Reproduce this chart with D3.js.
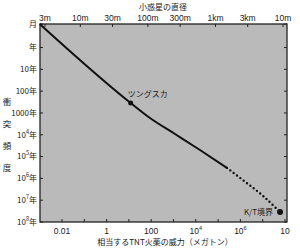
<!DOCTYPE html>
<html>
<head>
<meta charset="utf-8">
<script src="https://cdn.jsdelivr.net/npm/d3@7"></script>
<style>
  body { margin: 0; background: #fff; }
  text { font-family: "Liberation Sans", "Noto Sans CJK JP", sans-serif; fill: #1a1a1a; }
  .jp { font-family: "Noto Sans CJK JP", sans-serif; }
</style>
</head>
<body>
<svg id="chart" width="300" height="248"></svg>
<script>
// impact energy (Mt TNT) vs mean interval between impacts (years)
const solidEnergy = [0.001, 12, 88, 1170, 15400, 250000]
const solidInterval = [1 / 12, 350, 1700, 9200, 50000, 330000]

const dottedEnergy = [250000, 1.3e6, 9.3e6, 6e7]
const dottedInterval = [330000, 1.2e6, 5.8e6, 3.5e7]

const eventNames = ['ツングスカ', 'K/T境界']
const eventEnergy = [12, 6e7]
const eventInterval = [350, 3.5e7]

const energyTickValues = [0.01, 1, 100, 1e4, 1e6, 1e8]
const energyTickLabels = ['0.01', '1', '100', '10^4', '10^6', '10']
const energyMinorTicks = [0.1, 10, 1000, 1e5, 1e7]

const diameterTickValues = [3, 10, 30, 100, 300, 1000, 3000, 10000]
const diameterTickLabels = ['3m', '10m', '30m', '100m', '300m', '1km', '3km', '10m']

const intervalTickValues = [1 / 12, 1, 10, 100, 1000, 1e4, 1e5, 1e6, 1e7, 1e8]
const intervalTickLabels = ['月', '年', '10年', '100年', '1000年', '10^4年', '10^5年', '10^6年', '10^7年', '10^8年']

const svg = d3.select('#chart')

const plotLeft = 40, plotRight = 287, plotTop = 24, plotBottom = 222

let x = d3.scaleLog().domain([0.01, 1e8]).range([62, 285])
let xTop = d3.scaleLog().domain([3, 10000]).range([45, 283])
let y = d3.scaleLog().domain([1 / 12, 1e8]).range([plotTop, plotBottom])

// label with optional superscript "10^4年"
const writeLabel = (sel, s) => {
	let m = s.match(/^([^\^]*)\^(\d)(.*)$/)
	if (!m) { sel.text(s); return }
	sel.append('tspan').text(m[1])
	sel.append('tspan').attr('dy', -4).attr('font-size', '5.5px').text(m[2])
	if (m[3]) sel.append('tspan').attr('dy', 4).text(m[3])
}

svg.append('rect')
.attr('x', plotLeft).attr('y', plotTop)
.attr('width', plotRight - plotLeft).attr('height', plotBottom - plotTop)
.attr('fill', '#bababa')

// ticks, pointing inwards
let ticks = svg.append('g').attr('stroke', '#222').attr('stroke-width', 1)

intervalTickValues.forEach(v => {
	ticks.append('line').attr('x1', plotLeft).attr('x2', plotLeft + 3).attr('y1', y(v)).attr('y2', y(v))
	ticks.append('line').attr('x1', plotRight).attr('x2', plotRight - 3).attr('y1', y(v)).attr('y2', y(v))
})

energyTickValues.concat(energyMinorTicks).forEach(v => {
	ticks.append('line').attr('x1', x(v)).attr('x2', x(v)).attr('y1', plotBottom).attr('y2', plotBottom - 3)
})

diameterTickValues.forEach(v => {
	ticks.append('line').attr('x1', xTop(v)).attr('x2', xTop(v)).attr('y1', plotTop).attr('y2', plotTop + 3)
})

svg.append('rect')
.attr('x', plotLeft).attr('y', plotTop)
.attr('width', plotRight - plotLeft).attr('height', plotBottom - plotTop)
.attr('fill', 'none')
.attr('stroke', '#222')
.attr('stroke-width', 1.3)

// tick labels
intervalTickValues.forEach((v, i) => {
	let t = svg.append('text')
	.attr('class', 'jp')
	.attr('x', 37).attr('y', y(v)).attr('dy', '0.35em')
	.attr('text-anchor', 'end')
	.attr('font-size', '8px')
	writeLabel(t, intervalTickLabels[i])
})

energyTickValues.forEach((v, i) => {
	let t = svg.append('text')
	.attr('x', x(v)).attr('y', 234)
	.attr('text-anchor', 'middle')
	.attr('font-size', '8.5px')
	writeLabel(t, energyTickLabels[i])
})

diameterTickValues.forEach((v, i) => {
	svg.append('text')
	.attr('x', xTop(v)).attr('y', 21)
	.attr('text-anchor', 'middle')
	.attr('font-size', '8.5px')
	.text(diameterTickLabels[i])
})

// axis titles
svg.append('text')
.attr('class', 'jp')
.attr('x', 163).attr('y', 10)
.attr('text-anchor', 'middle')
.attr('font-size', '8px')
.text('小惑星の直径')

svg.append('text')
.attr('class', 'jp')
.attr('x', 165).attr('y', 245)
.attr('text-anchor', 'middle')
.attr('font-size', '8px')
.text('相当するTNT火薬の威力（メガトン）')

let yTitle = svg.append('text')
.attr('class', 'jp')
.attr('text-anchor', 'middle')
.attr('font-size', '8.5px')

'衝突頻度'.split('').forEach((c, i) => {
	yTitle.append('tspan')
	.attr('x', 7)
	.attr('y', 105 + i * 22)
	.text(c)
})

// curve
let line = d3.line()
.x(d => x(d[0]))
.y(d => y(d[1]))
.curve(d3.curveMonotoneX)

svg.append('path')
.datum(d3.zip(solidEnergy, solidInterval))
.attr('d', line)
.attr('fill', 'none')
.attr('stroke', '#111')
.attr('stroke-width', 2)

svg.append('path')
.datum(d3.zip(dottedEnergy, dottedInterval))
.attr('d', line)
.attr('fill', 'none')
.attr('stroke', '#111')
.attr('stroke-width', 2.4)
.attr('stroke-linecap', 'round')
.attr('stroke-dasharray', '0 4.2')

// events
eventNames.forEach((n, i) => {
	let cx = x(eventEnergy[i])
	let cy = y(eventInterval[i])

	svg.append('circle')
	.attr('cx', cx).attr('cy', cy)
	.attr('r', i == 0 ? 2.5 : 3)
	.attr('fill', '#111')

	svg.append('text')
	.attr('class', 'jp')
	.attr('x', i == 0 ? cx - 3 : cx - 7)
	.attr('y', i == 0 ? cy - 6 : cy + 3)
	.attr('text-anchor', i == 0 ? 'start' : 'end')
	.attr('font-size', '8px')
	.text(n)
})
</script>
</body>
</html>
